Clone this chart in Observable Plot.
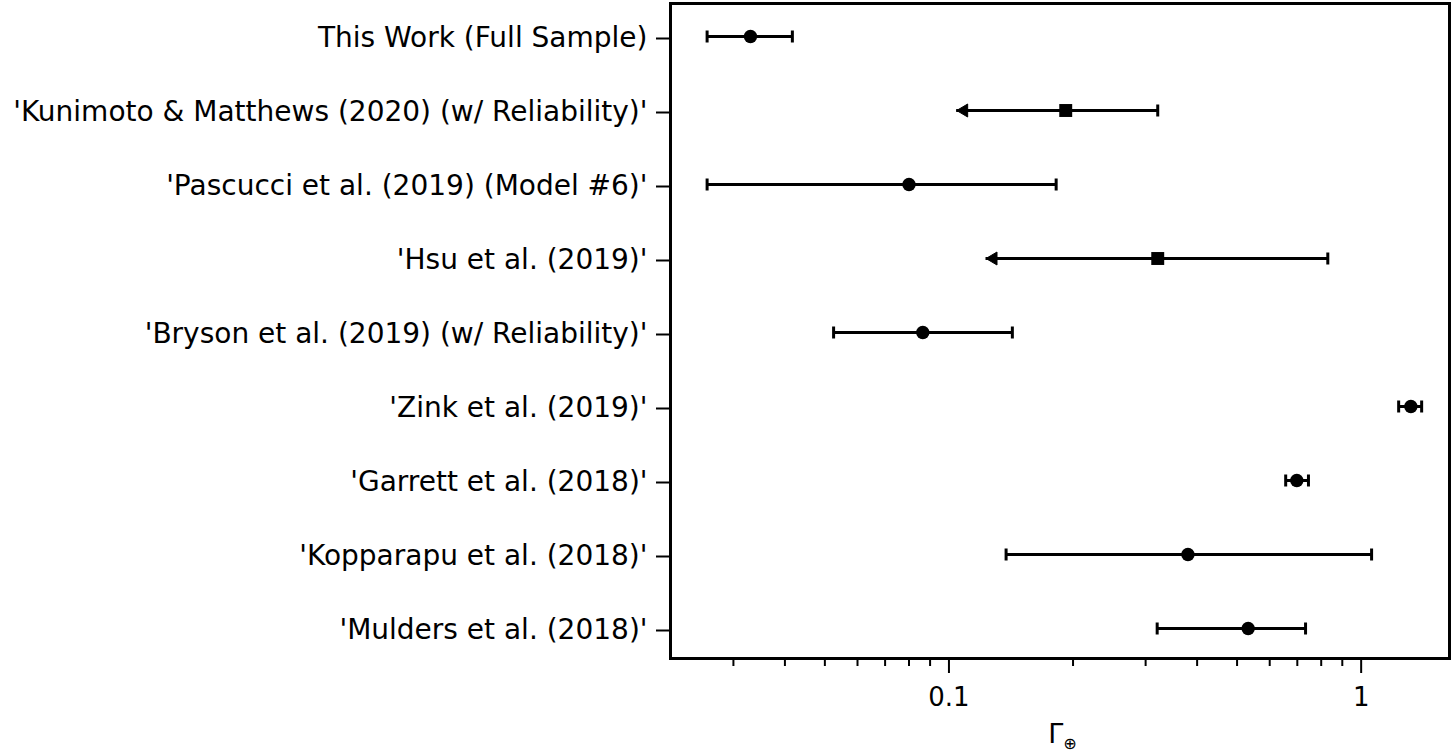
<!DOCTYPE html>
<html>
<head>
<meta charset="utf-8">
<script src="https://cdn.jsdelivr.net/npm/d3@7"></script>
<script src="https://cdn.jsdelivr.net/npm/@observablehq/plot@0.6"></script>
<style>
  html, body { margin: 0; padding: 0; background: #fff; }
  svg { display: block; }
</style>
</head>
<body>
<div id="chart"></div>
<script>
// Occurrence rate estimates of Earth-like planets (Γ⊕) from several studies
const studies = [
  "This Work (Full Sample)",
  "'Kunimoto & Matthews (2020) (w/ Reliability)'",
  "'Pascucci et al. (2019) (Model #6)'",
  "'Hsu et al. (2019)'",
  "'Bryson et al. (2019) (w/ Reliability)'",
  "'Zink et al. (2019)'",
  "'Garrett et al. (2018)'",
  "'Kopparapu et al. (2018)'",
  "'Mulders et al. (2018)'"
];
const central = [0.033, 0.192, 0.080, 0.321, 0.0864, 1.32, 0.698, 0.380, 0.532];
const lower   = [0.0259, 0.1044, 0.0259, 0.123, 0.0525, 1.233, 0.656, 0.1376, 0.320];
const upper   = [0.0417, 0.321, 0.182, 0.830, 0.1425, 1.402, 0.745, 1.06, 0.733];
// lower end drawn as an arrow (upper-limit style estimate)
const arrowLower = [false, true, false, true, false, false, false, false, false];
const markerShape = ["circle", "square", "circle", "square", "circle", "circle", "circle", "circle", "circle"];

const majorTicks = [0.1, 1];
const minorTicks = [0.03, 0.04, 0.05, 0.06, 0.07, 0.08, 0.09, 0.2, 0.3, 0.4, 0.5, 0.6, 0.7, 0.8, 0.9];

const rows = studies.map((study, i) => ({
  study,
  value: central[i],
  lo: lower[i],
  hi: upper[i],
  arrow: arrowLower[i],
  shape: markerShape[i]
}));

// vertical end cap of an error bar
const capSymbol = {
  draw(ctx) { ctx.moveTo(0, -6); ctx.lineTo(0, 6); }
};
// left-pointing arrow head, tip at the data value
const arrowSymbol = {
  draw(ctx) { ctx.moveTo(0, 0); ctx.lineTo(11, -6.5); ctx.lineTo(11, 6.5); ctx.closePath(); }
};

const font = "'DejaVu Sans', sans-serif";

const chart = Plot.plot({
  width: 1451,
  height: 752,
  marginLeft: 670,
  marginRight: 2,
  marginTop: 3,
  marginBottom: 94,
  style: { fontFamily: font, fontSize: "26px", color: "black", background: "white" },
  x: { type: "log", domain: [0.02111, 1.638] },
  y: { type: "point", domain: studies, range: [34, 630], padding: 0 },
  marks: [
    Plot.axisY({ tickSize: 14, tickPadding: 9, strokeWidth: 2, fontSize: 28, dy: 2, label: null }),
    Plot.axisX({ ticks: minorTicks, tickSize: 8, strokeWidth: 2, tickFormat: () => "", label: null }),
    Plot.axisX({ ticks: majorTicks, tickSize: 15, tickPadding: 14, strokeWidth: 2, fontSize: 26, tickFormat: d3.format("~g"), label: null }),
    Plot.ruleY(rows, { y: "study", x1: "lo", x2: "hi", stroke: "black", strokeWidth: 3 }),
    Plot.dot(rows.filter(d => !d.arrow), { x: "lo", y: "study", symbol: capSymbol, stroke: "black", fill: "none", strokeWidth: 3 }),
    Plot.dot(rows, { x: "hi", y: "study", symbol: capSymbol, stroke: "black", fill: "none", strokeWidth: 3 }),
    Plot.dot(rows.filter(d => d.arrow), { x: "lo", y: "study", symbol: arrowSymbol, fill: "black", stroke: "black", strokeWidth: 1 }),
    Plot.dot(rows.filter(d => d.shape === "circle"), { x: "value", y: "study", symbol: "circle", r: 6.7, fill: "black" }),
    Plot.dot(rows.filter(d => d.shape === "square"), { x: "value", y: "study", symbol: "square", r: 7.3, fill: "black" }),
    Plot.frame({ stroke: "black", strokeWidth: 3 })
  ]
});

// x-axis title Γ⊕ with subscript, centred under the frame
const xr = chart.scale("x").range;
const title = d3.select(chart).append("text")
  .attr("x", (xr[0] + xr[1]) / 2 + 3)
  .attr("y", 743)
  .attr("text-anchor", "middle")
  .attr("font-family", font)
  .attr("font-size", 27)
  .attr("fill", "black")
  .text("Γ");
title.append("tspan").attr("font-size", 16).attr("dy", 6).text("⊕");

document.getElementById("chart").appendChild(chart);
</script>
</body>
</html>
